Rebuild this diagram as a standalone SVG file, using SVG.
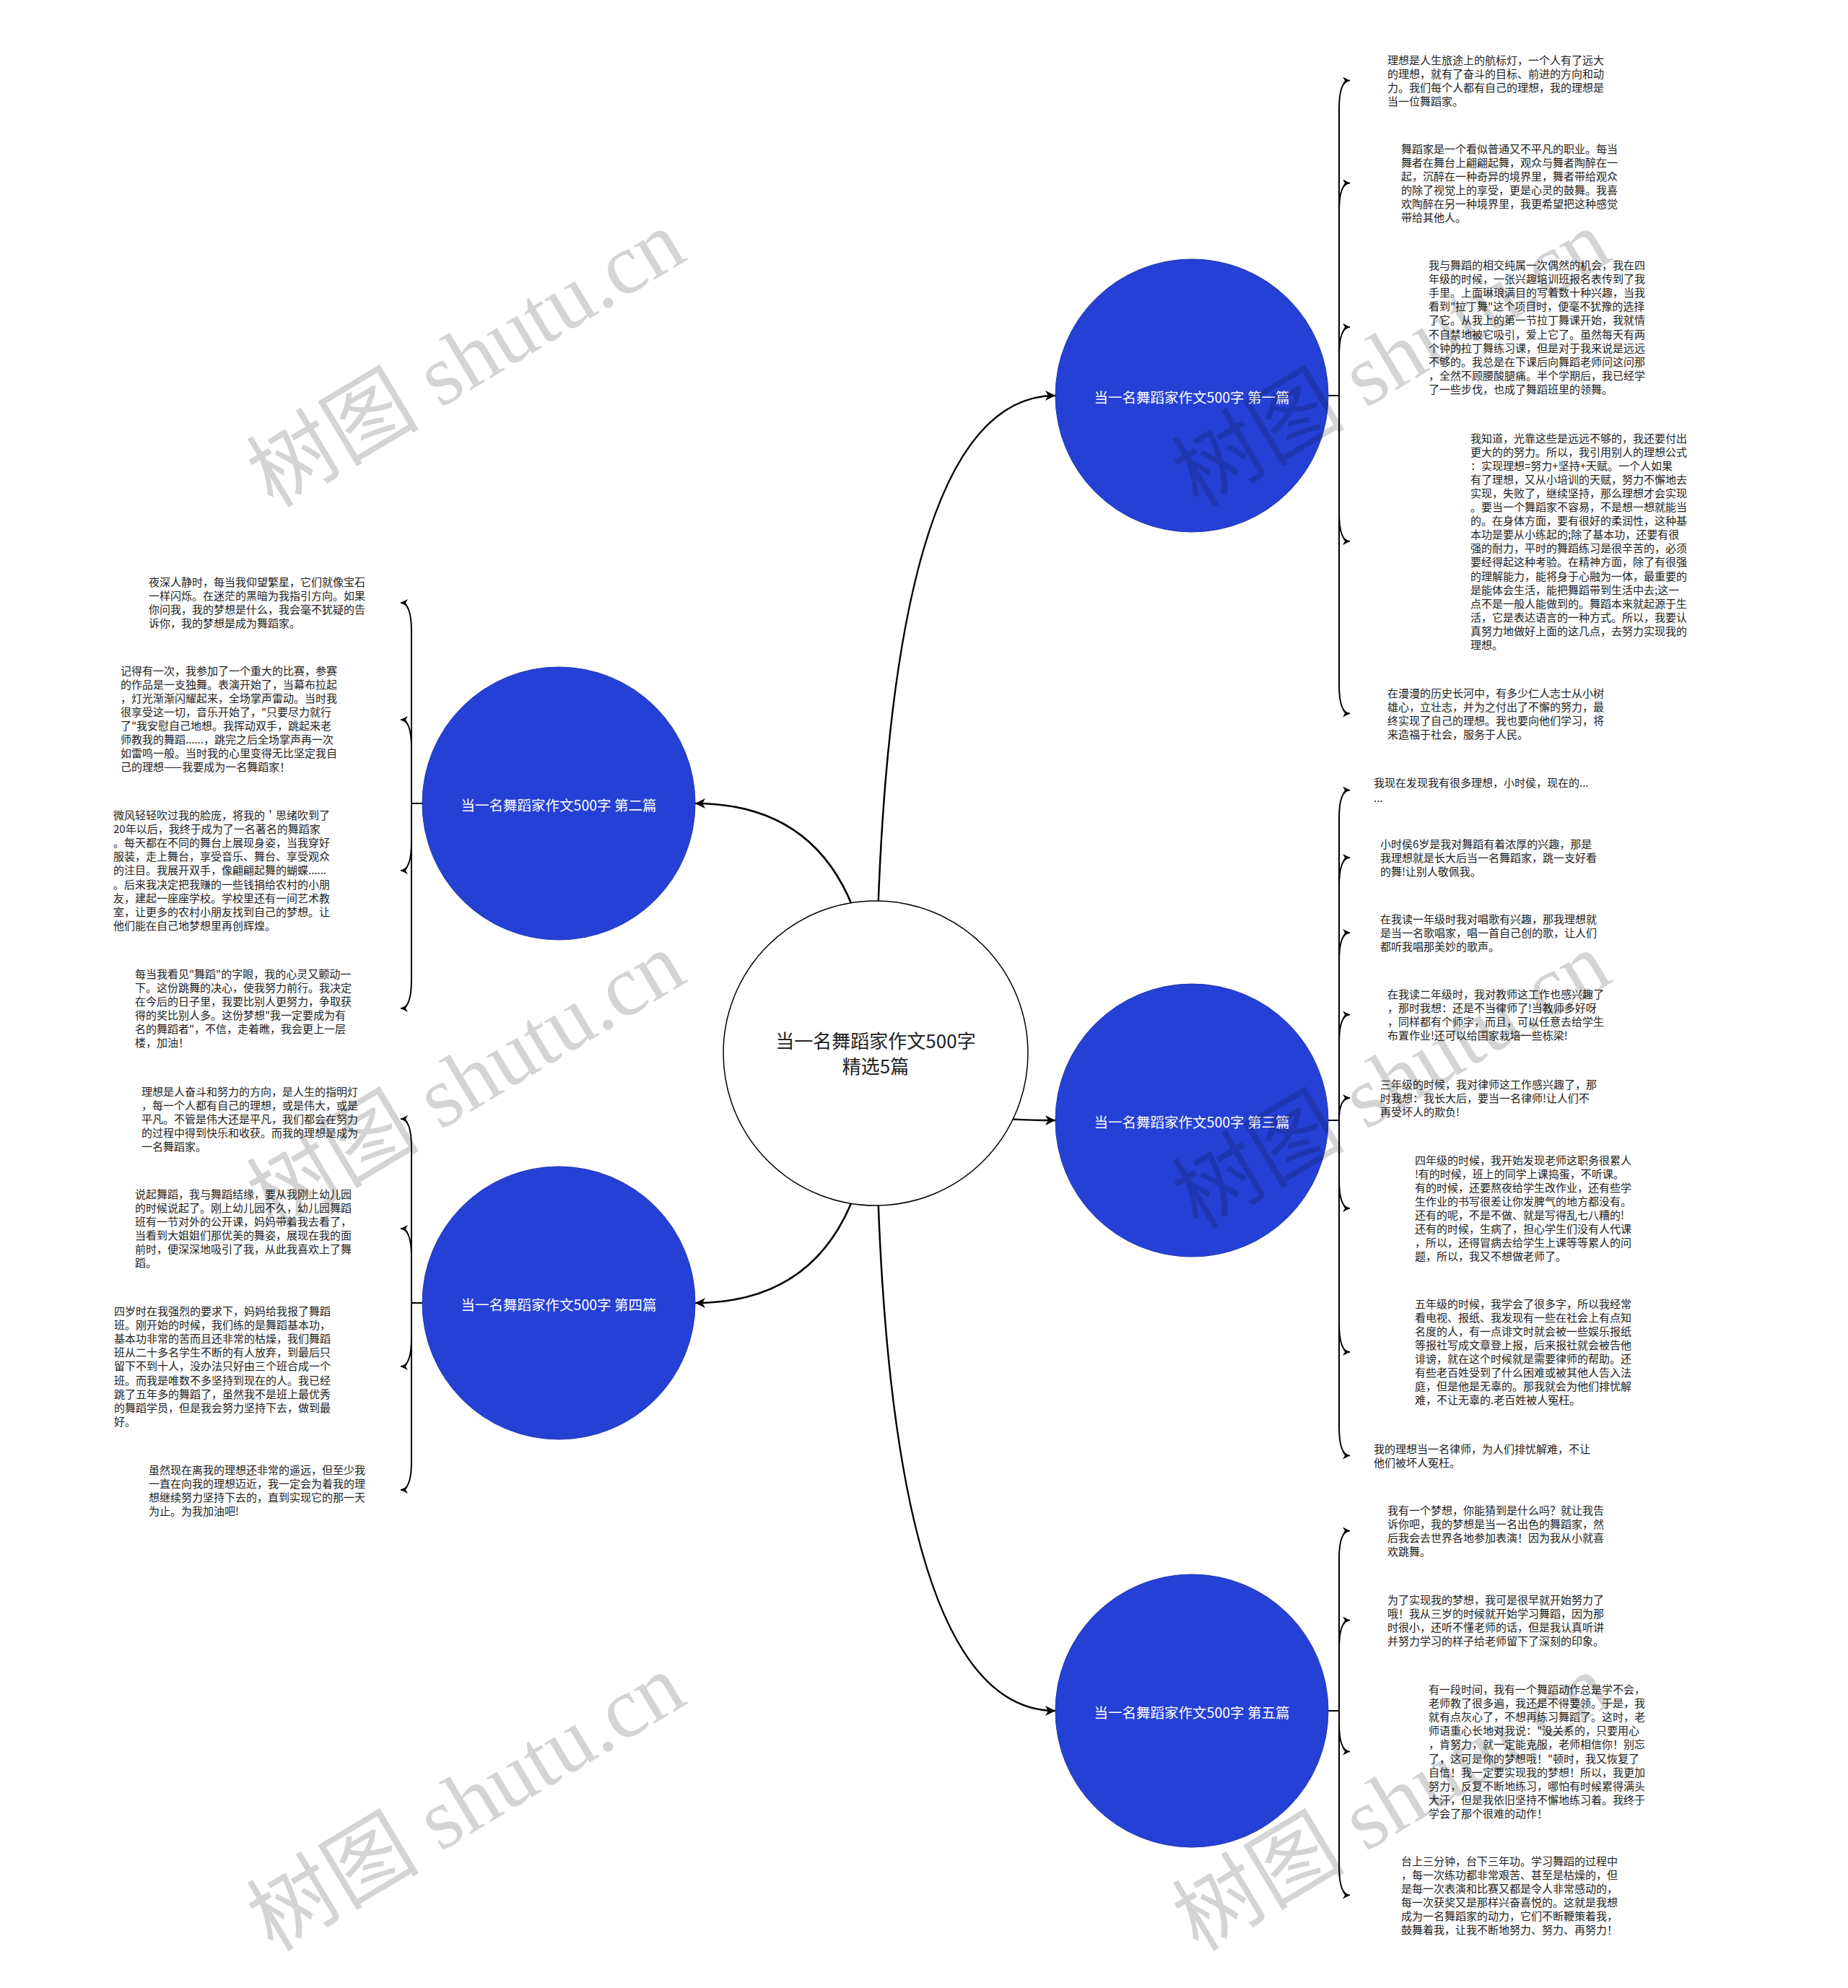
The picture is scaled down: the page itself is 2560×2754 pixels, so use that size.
<svg xmlns="http://www.w3.org/2000/svg" width="2560" height="2754" viewBox="0 0 2560 2754">
<style>
.t{font-family:"Noto Sans CJK SC","Noto Sans",sans-serif;font-size:15px;fill:#222}
.nt{font-family:"Noto Sans CJK SC","Noto Sans",sans-serif;font-size:19.5px;fill:#fff;text-anchor:middle;dominant-baseline:central}
.ct{font-family:"Noto Sans CJK SC","Noto Sans",sans-serif;font-size:26px;fill:#222;text-anchor:middle}
.main{fill:none;stroke:#000;stroke-width:2.5;marker-end:url(#ab)}
.leaf{fill:none;stroke:#000;stroke-width:2;marker-end:url(#as)}
.blue{fill:#2541D5;stroke:#1f36b0;stroke-width:1}
.wm{font-family:"Liberation Serif","Noto Sans CJK SC",serif;font-size:120px;fill:#000;fill-opacity:0.17}
</style>
<defs>
<marker id="ab" markerUnits="userSpaceOnUse" markerWidth="16" markerHeight="14" refX="14" refY="7" orient="auto"><path d="M0 0 L14 7 L0 14 L4 7 Z" fill="#000"/></marker>
<marker id="as" markerUnits="userSpaceOnUse" markerWidth="12" markerHeight="10" refX="10" refY="5" orient="auto"><path d="M0 0 L10 5 L0 10 L3 5 Z" fill="#000"/></marker>
</defs>
<rect width="2560" height="2754" fill="#fff"/>
<g id="connectors">
<path class="main" d="M1213 1459 Q1213 548 1462 548"/>
<path class="main" d="M1213 1459 Q1213 1113 963 1113"/>
<path class="main" d="M1213 1459 Q1213 1552 1462 1552"/>
<path class="main" d="M1213 1459 Q1213 1805 963 1805"/>
<path class="main" d="M1213 1459 Q1213 2370 1462 2370"/>
<path class="leaf" d="M1840 548 H1855 V151 Q1855 111.5 1870 111.5"/>
<path class="leaf" d="M1840 548 H1855 V293 Q1855 253.5 1870 253.5"/>
<path class="leaf" d="M1840 548 H1855 V493 Q1855 453 1870 453"/>
<path class="leaf" d="M1840 548 H1855 V710 Q1855 750 1870 750"/>
<path class="leaf" d="M1840 548 H1855 V948 Q1855 988.5 1870 988.5"/>
<path class="leaf" d="M1840 1552 H1855 V1134 Q1855 1094.5 1870 1094.5"/>
<path class="leaf" d="M1840 1552 H1855 V1228 Q1855 1188 1870 1188"/>
<path class="leaf" d="M1840 1552 H1855 V1332 Q1855 1292 1870 1292"/>
<path class="leaf" d="M1840 1552 H1855 V1445 Q1855 1405.5 1870 1405.5"/>
<path class="leaf" d="M1840 1552 H1855 Q1855 1521 1870 1521"/>
<path class="leaf" d="M1840 1552 H1855 V1634 Q1855 1674 1870 1674"/>
<path class="leaf" d="M1840 1552 H1855 V1833 Q1855 1873 1870 1873"/>
<path class="leaf" d="M1840 1552 H1855 V1976 Q1855 2016.5 1870 2016.5"/>
<path class="leaf" d="M1840 2370 H1855 V2160 Q1855 2120.5 1870 2120.5"/>
<path class="leaf" d="M1840 2370 H1855 V2284 Q1855 2244.5 1870 2244.5"/>
<path class="leaf" d="M1840 2370 H1855 V2387 Q1855 2426.5 1870 2426.5"/>
<path class="leaf" d="M1840 2370 H1855 V2585 Q1855 2625.5 1870 2625.5"/>
<path class="leaf" d="M585 1113 H570 V875 Q570 835 555 835"/>
<path class="leaf" d="M585 1113 H570 V1037 Q570 997 555 997"/>
<path class="leaf" d="M585 1113 H570 V1166 Q570 1206 555 1206"/>
<path class="leaf" d="M585 1113 H570 V1357 Q570 1397 555 1397"/>
<path class="leaf" d="M585 1805 H570 V1590 Q570 1550 555 1550"/>
<path class="leaf" d="M585 1805 H570 V1742 Q570 1702 555 1702"/>
<path class="leaf" d="M585 1805 H570 V1853 Q570 1893 555 1893"/>
<path class="leaf" d="M585 1805 H570 V2024 Q570 2064 555 2064"/>
</g>
<g id="center">
<circle cx="1213" cy="1459" r="211" fill="#fff" stroke="#000" stroke-width="1.5"/>
<text class="ct" x="1213" y="1452">当一名舞蹈家作文500字</text>
<text class="ct" x="1213" y="1487">精选5篇</text>
</g>
<g id="node1"><circle class="blue" cx="1651" cy="548" r="189"/><text class="nt" x="1651" y="549">当一名舞蹈家作文500字 第一篇</text></g>
<g id="node2"><circle class="blue" cx="774" cy="1113" r="189"/><text class="nt" x="774" y="1114">当一名舞蹈家作文500字 第二篇</text></g>
<g id="node3"><circle class="blue" cx="1651" cy="1552" r="189"/><text class="nt" x="1651" y="1553">当一名舞蹈家作文500字 第三篇</text></g>
<g id="node4"><circle class="blue" cx="774" cy="1805" r="189"/><text class="nt" x="774" y="1806">当一名舞蹈家作文500字 第四篇</text></g>
<g id="node5"><circle class="blue" cx="1651" cy="2370" r="189"/><text class="nt" x="1651" y="2371">当一名舞蹈家作文500字 第五篇</text></g>

<g id="leaf-r1a"><text class="t" x="1922" y="88.5"><tspan x="1922">理想是人生旅途上的航标灯，一个人有了远大</tspan><tspan x="1922" dy="19.1">的理想，就有了奋斗的目标、前进的方向和动</tspan><tspan x="1922" dy="19.1">力。我们每个人都有自己的理想，我的理想是</tspan><tspan x="1922" dy="19.1">当一位舞蹈家。</tspan></text></g>
<g id="leaf-r1b"><text class="t" x="1941" y="211.5"><tspan x="1941">舞蹈家是一个看似普通又不平凡的职业。每当</tspan><tspan x="1941" dy="19.1">舞者在舞台上翩翩起舞，观众与舞者陶醉在一</tspan><tspan x="1941" dy="19.1">起，沉醉在一种奇异的境界里，舞者带给观众</tspan><tspan x="1941" dy="19.1">的除了视觉上的享受，更是心灵的鼓舞。我喜</tspan><tspan x="1941" dy="19.1">欢陶醉在另一种境界里，我更希望把这种感觉</tspan><tspan x="1941" dy="19.1">带给其他人。</tspan></text></g>
<g id="leaf-r1c"><text class="t" x="1979" y="372.5"><tspan x="1979">我与舞蹈的相交纯属一次偶然的机会，我在四</tspan><tspan x="1979" dy="19.2">年级的时候，一张兴趣培训班报名表传到了我</tspan><tspan x="1979" dy="19.2">手里。上面琳琅满目的写着数十种兴趣，当我</tspan><tspan x="1979" dy="19.2">看到"拉丁舞"这个项目时，便毫不犹豫的选择</tspan><tspan x="1979" dy="19.2">了它。从我上的第一节拉丁舞课开始，我就情</tspan><tspan x="1979" dy="19.2">不自禁地被它吸引，爱上它了。虽然每天有两</tspan><tspan x="1979" dy="19.2">个钟的拉丁舞练习课，但是对于我来说是远远</tspan><tspan x="1979" dy="19.2">不够的。我总是在下课后向舞蹈老师问这问那</tspan><tspan x="1979" dy="19.2">，全然不顾腰酸腿痛。半个学期后，我已经学</tspan><tspan x="1979" dy="19.2">了一些步伐，也成了舞蹈班里的领舞。</tspan></text></g>
<g id="leaf-r1d"><text class="t" x="2037" y="612.5"><tspan x="2037">我知道，光靠这些是远远不够的，我还要付出</tspan><tspan x="2037" dy="19.1">更大的的努力。所以，我引用别人的理想公式</tspan><tspan x="2037" dy="19.1">：实现理想=努力+坚持+天赋。一个人如果</tspan><tspan x="2037" dy="19.1">有了理想，又从小培训的天赋，努力不懈地去</tspan><tspan x="2037" dy="19.1">实现，失败了，继续坚持，那么理想才会实现</tspan><tspan x="2037" dy="19.1">。要当一个舞蹈家不容易，不是想一想就能当</tspan><tspan x="2037" dy="19.1">的。在身体方面，要有很好的柔润性，这种基</tspan><tspan x="2037" dy="19.1">本功是要从小练起的;除了基本功，还要有很</tspan><tspan x="2037" dy="19.1">强的耐力，平时的舞蹈练习是很辛苦的，必须</tspan><tspan x="2037" dy="19.1">要经得起这种考验。在精神方面，除了有很强</tspan><tspan x="2037" dy="19.1">的理解能力，能将身于心融为一体，最重要的</tspan><tspan x="2037" dy="19.1">是能体会生活，能把舞蹈带到生活中去;这一</tspan><tspan x="2037" dy="19.1">点不是一般人能做到的。舞蹈本来就起源于生</tspan><tspan x="2037" dy="19.1">活，它是表达语言的一种方式。所以，我要认</tspan><tspan x="2037" dy="19.1">真努力地做好上面的这几点，去努力实现我的</tspan><tspan x="2037" dy="19.1">理想。</tspan></text></g>
<g id="leaf-r1e"><text class="t" x="1922" y="965.5"><tspan x="1922">在漫漫的历史长河中，有多少仁人志士从小树</tspan><tspan x="1922" dy="19.1">雄心，立壮志，并为之付出了不懈的努力，最</tspan><tspan x="1922" dy="19.1">终实现了自己的理想。我也要向他们学习，将</tspan><tspan x="1922" dy="19.1">来造福于社会，服务于人民。</tspan></text></g>

<g id="leaf-r3a"><text class="t" x="1903" y="1089.5"><tspan x="1903">我现在发现我有很多理想，小时侯，现在的...</tspan><tspan x="1903" dy="21">...</tspan></text></g>
<g id="leaf-r3b"><text class="t" x="1912" y="1174.5"><tspan x="1912">小时侯6岁是我对舞蹈有着浓厚的兴趣，那是</tspan><tspan x="1912" dy="19.1">我理想就是长大后当一名舞蹈家，跳一支好看</tspan><tspan x="1912" dy="19.1">的舞!让别人敬佩我。</tspan></text></g>
<g id="leaf-r3c"><text class="t" x="1912" y="1278.5"><tspan x="1912">在我读一年级时我对唱歌有兴趣，那我理想就</tspan><tspan x="1912" dy="19.1">是当一名歌唱家，唱一首自己创的歌，让人们</tspan><tspan x="1912" dy="19.1">都听我唱那美妙的歌声。</tspan></text></g>
<g id="leaf-r3d"><text class="t" x="1922" y="1382.5"><tspan x="1922">在我读二年级时，我对教师这工作也感兴趣了</tspan><tspan x="1922" dy="19.1">，那时我想：还是不当律师了!当教师多好呀</tspan><tspan x="1922" dy="19.1">，同样都有个师字，而且，可以任意去给学生</tspan><tspan x="1922" dy="19.1">布置作业!还可以给国家栽培一些栋梁!</tspan></text></g>
<g id="leaf-r3e"><text class="t" x="1912" y="1507.5"><tspan x="1912">三年级的时候，我对律师这工作感兴趣了，那</tspan><tspan x="1912" dy="19.1">时我想：我长大后，要当一名律师!让人们不</tspan><tspan x="1912" dy="19.1">再受坏人的欺负!</tspan></text></g>
<g id="leaf-r3f"><text class="t" x="1960" y="1612.5"><tspan x="1960">四年级的时候，我开始发现老师这职务很累人</tspan><tspan x="1960" dy="19.1">!有的时候，班上的同学上课捣蛋，不听课。</tspan><tspan x="1960" dy="19.1">有的时候，还要熬夜给学生改作业，还有些学</tspan><tspan x="1960" dy="19.1">生作业的书写很差让你发脾气的地方都没有。</tspan><tspan x="1960" dy="19.1">还有的呢，不是不做、就是写得乱七八糟的!</tspan><tspan x="1960" dy="19.1">还有的时候，生病了，担心学生们没有人代课</tspan><tspan x="1960" dy="19.1">，所以，还得冒病去给学生上课等等累人的问</tspan><tspan x="1960" dy="19.1">题，所以，我又不想做老师了。</tspan></text></g>
<g id="leaf-r3g"><text class="t" x="1960" y="1811.5"><tspan x="1960">五年级的时候，我学会了很多字，所以我经常</tspan><tspan x="1960" dy="19.1">看电视、报纸、我发现有一些在社会上有点知</tspan><tspan x="1960" dy="19.1">名度的人，有一点诽文时就会被一些娱乐报纸</tspan><tspan x="1960" dy="19.1">等报社写成文章登上报，后来报社就会被告他</tspan><tspan x="1960" dy="19.1">诽谤，就在这个时候就是需要律师的帮助。还</tspan><tspan x="1960" dy="19.1">有些老百姓受到了什么困难或被其他人告入法</tspan><tspan x="1960" dy="19.1">庭，但是他是无辜的。那我就会为他们排忧解</tspan><tspan x="1960" dy="19.1">难，不让无辜的.老百姓被人冤枉。</tspan></text></g>
<g id="leaf-r3h"><text class="t" x="1903" y="2012.5"><tspan x="1903">我的理想当一名律师，为人们排忧解难，不让</tspan><tspan x="1903" dy="19.1">他们被坏人冤枉。</tspan></text></g>

<g id="leaf-r5a"><text class="t" x="1922" y="2097.5"><tspan x="1922">我有一个梦想，你能猜到是什么吗？就让我告</tspan><tspan x="1922" dy="19.1">诉你吧，我的梦想是当一名出色的舞蹈家，然</tspan><tspan x="1922" dy="19.1">后我会去世界各地参加表演！因为我从小就喜</tspan><tspan x="1922" dy="19.1">欢跳舞。</tspan></text></g>
<g id="leaf-r5b"><text class="t" x="1922" y="2221.5"><tspan x="1922">为了实现我的梦想，我可是很早就开始努力了</tspan><tspan x="1922" dy="19.1">哦！我从三岁的时候就开始学习舞蹈，因为那</tspan><tspan x="1922" dy="19.1">时很小，还听不懂老师的话，但是我认真听讲</tspan><tspan x="1922" dy="19.1">并努力学习的样子给老师留下了深刻的印象。</tspan></text></g>
<g id="leaf-r5c"><text class="t" x="1979" y="2345.5"><tspan x="1979">有一段时间，我有一个舞蹈动作总是学不会，</tspan><tspan x="1979" dy="19.2">老师教了很多遍，我还是不得要领。于是，我</tspan><tspan x="1979" dy="19.2">就有点灰心了，不想再练习舞蹈了。这时，老</tspan><tspan x="1979" dy="19.2">师语重心长地对我说："没关系的，只要用心</tspan><tspan x="1979" dy="19.2">，肯努力，就一定能克服，老师相信你！别忘</tspan><tspan x="1979" dy="19.2">了，这可是你的梦想哦！"顿时，我又恢复了</tspan><tspan x="1979" dy="19.2">自信！我一定要实现我的梦想！所以，我更加</tspan><tspan x="1979" dy="19.2">努力，反复不断地练习，哪怕有时候累得满头</tspan><tspan x="1979" dy="19.2">大汗，但是我依旧坚持不懈地练习着。我终于</tspan><tspan x="1979" dy="19.2">学会了那个很难的动作！</tspan></text></g>
<g id="leaf-r5d"><text class="t" x="1941" y="2583.5"><tspan x="1941">台上三分钟，台下三年功。学习舞蹈的过程中</tspan><tspan x="1941" dy="19.1">，每一次练功都非常艰苦、甚至是枯燥的，但</tspan><tspan x="1941" dy="19.1">是每一次表演和比赛又都是令人非常感动的，</tspan><tspan x="1941" dy="19.1">每一次获奖又是那样兴奋喜悦的。这就是我想</tspan><tspan x="1941" dy="19.1">成为一名舞蹈家的动力，它们不断鞭策着我，</tspan><tspan x="1941" dy="19.1">鼓舞着我，让我不断地努力、努力、再努力！</tspan></text></g>

<g id="leaf-l2a"><text class="t" x="206" y="811.5"><tspan x="206">夜深人静时，每当我仰望繁星，它们就像宝石</tspan><tspan x="206" dy="19.1">一样闪烁。在迷茫的黑暗为我指引方向。如果</tspan><tspan x="206" dy="19.1">你问我，我的梦想是什么，我会毫不犹疑的告</tspan><tspan x="206" dy="19.1">诉你，我的梦想是成为舞蹈家。</tspan></text></g>
<g id="leaf-l2b"><text class="t" x="167" y="934.5"><tspan x="167">记得有一次，我参加了一个重大的比赛，参赛</tspan><tspan x="167" dy="19.1">的作品是一支独舞。表演开始了，当幕布拉起</tspan><tspan x="167" dy="19.1">，灯光渐渐闪耀起来，全场掌声雷动。当时我</tspan><tspan x="167" dy="19.1">很享受这一切，音乐开始了，"只要尽力就行</tspan><tspan x="167" dy="19.1">了"我安慰自己地想。我挥动双手，跳起来老</tspan><tspan x="167" dy="19.1">师教我的舞蹈......，跳完之后全场掌声再一次</tspan><tspan x="167" dy="19.1">如雷鸣一般。当时我的心里变得无比坚定我自</tspan><tspan x="167" dy="19.1">己的理想——我要成为一名舞蹈家！</tspan></text></g>
<g id="leaf-l2c"><text class="t" x="157" y="1134.5"><tspan x="157">微风轻轻吹过我的脸庞，将我的＇思绪吹到了</tspan><tspan x="157" dy="19.2">20年以后，我终于成为了一名著名的舞蹈家</tspan><tspan x="157" dy="19.2">。每天都在不同的舞台上展现身姿，当我穿好</tspan><tspan x="157" dy="19.2">服装，走上舞台，享受音乐、舞台、享受观众</tspan><tspan x="157" dy="19.2">的注目。我展开双手，像翩翩起舞的蝴蝶......</tspan><tspan x="157" dy="19.2">。后来我决定把我赚的一些钱捐给农村的小朋</tspan><tspan x="157" dy="19.2">友，建起一座座学校。学校里还有一间艺术教</tspan><tspan x="157" dy="19.2">室，让更多的农村小朋友找到自己的梦想。让</tspan><tspan x="157" dy="19.2">他们能在自己地梦想里再创辉煌。</tspan></text></g>
<g id="leaf-l2d"><text class="t" x="187" y="1354.5"><tspan x="187">每当我看见"舞蹈"的字眼，我的心灵又颤动一</tspan><tspan x="187" dy="19.1">下。这份跳舞的决心，使我努力前行。我决定</tspan><tspan x="187" dy="19.1">在今后的日子里，我要比别人更努力，争取获</tspan><tspan x="187" dy="19.1">得的奖比别人多。这份梦想"我一定要成为有</tspan><tspan x="187" dy="19.1">名的舞蹈者"，不信，走着瞧，我会更上一层</tspan><tspan x="187" dy="19.1">楼，加油！</tspan></text></g>

<g id="leaf-l4a"><text class="t" x="196" y="1517.5"><tspan x="196">理想是人奋斗和努力的方向，是人生的指明灯</tspan><tspan x="196" dy="19.1">，每一个人都有自己的理想，或是伟大，或是</tspan><tspan x="196" dy="19.1">平凡。不管是伟大还是平凡，我们都会在努力</tspan><tspan x="196" dy="19.1">的过程中得到快乐和收获。而我的理想是成为</tspan><tspan x="196" dy="19.1">一名舞蹈家。</tspan></text></g>
<g id="leaf-l4b"><text class="t" x="187" y="1659.5"><tspan x="187">说起舞蹈，我与舞蹈结缘，要从我刚上幼儿园</tspan><tspan x="187" dy="19.1">的时候说起了。刚上幼儿园不久，幼儿园舞蹈</tspan><tspan x="187" dy="19.1">班有一节对外的公开课，妈妈带着我去看了，</tspan><tspan x="187" dy="19.1">当看到大姐姐们那优美的舞姿，展现在我的面</tspan><tspan x="187" dy="19.1">前时，便深深地吸引了我，从此我喜欢上了舞</tspan><tspan x="187" dy="19.1">蹈。</tspan></text></g>
<g id="leaf-l4c"><text class="t" x="158" y="1821.5"><tspan x="158">四岁时在我强烈的要求下，妈妈给我报了舞蹈</tspan><tspan x="158" dy="19.2">班。刚开始的时候，我们练的是舞蹈基本功，</tspan><tspan x="158" dy="19.2">基本功非常的苦而且还非常的枯燥，我们舞蹈</tspan><tspan x="158" dy="19.2">班从二十多名学生不断的有人放弃，到最后只</tspan><tspan x="158" dy="19.2">留下不到十人，没办法只好由三个班合成一个</tspan><tspan x="158" dy="19.2">班。而我是唯数不多坚持到现在的人。我已经</tspan><tspan x="158" dy="19.2">跳了五年多的舞蹈了，虽然我不是班上最优秀</tspan><tspan x="158" dy="19.2">的舞蹈学员，但是我会努力坚持下去，做到最</tspan><tspan x="158" dy="19.2">好。</tspan></text></g>
<g id="leaf-l4d"><text class="t" x="206" y="2041.5"><tspan x="206">虽然现在离我的理想还非常的遥远，但至少我</tspan><tspan x="206" dy="19.1">一直在向我的理想迈近，我一定会为着我的理</tspan><tspan x="206" dy="19.1">想继续努力坚持下去的，直到实现它的那一天</tspan><tspan x="206" dy="19.1">为止。为我加油吧!</tspan></text></g>

<g id="watermarks">
<text class="wm" x="378" y="705" transform="rotate(-31 378 705)">树图 shutu.cn</text>
<text class="wm" x="1660" y="705" transform="rotate(-31 1660 705)">树图 shutu.cn</text>
<text class="wm" x="378" y="1705" transform="rotate(-31 378 1705)">树图 shutu.cn</text>
<text class="wm" x="1660" y="1705" transform="rotate(-31 1660 1705)">树图 shutu.cn</text>
<text class="wm" x="378" y="2705" transform="rotate(-31 378 2705)">树图 shutu.cn</text>
<text class="wm" x="1660" y="2705" transform="rotate(-31 1660 2705)">树图 shutu.cn</text>
</g>
</svg>
